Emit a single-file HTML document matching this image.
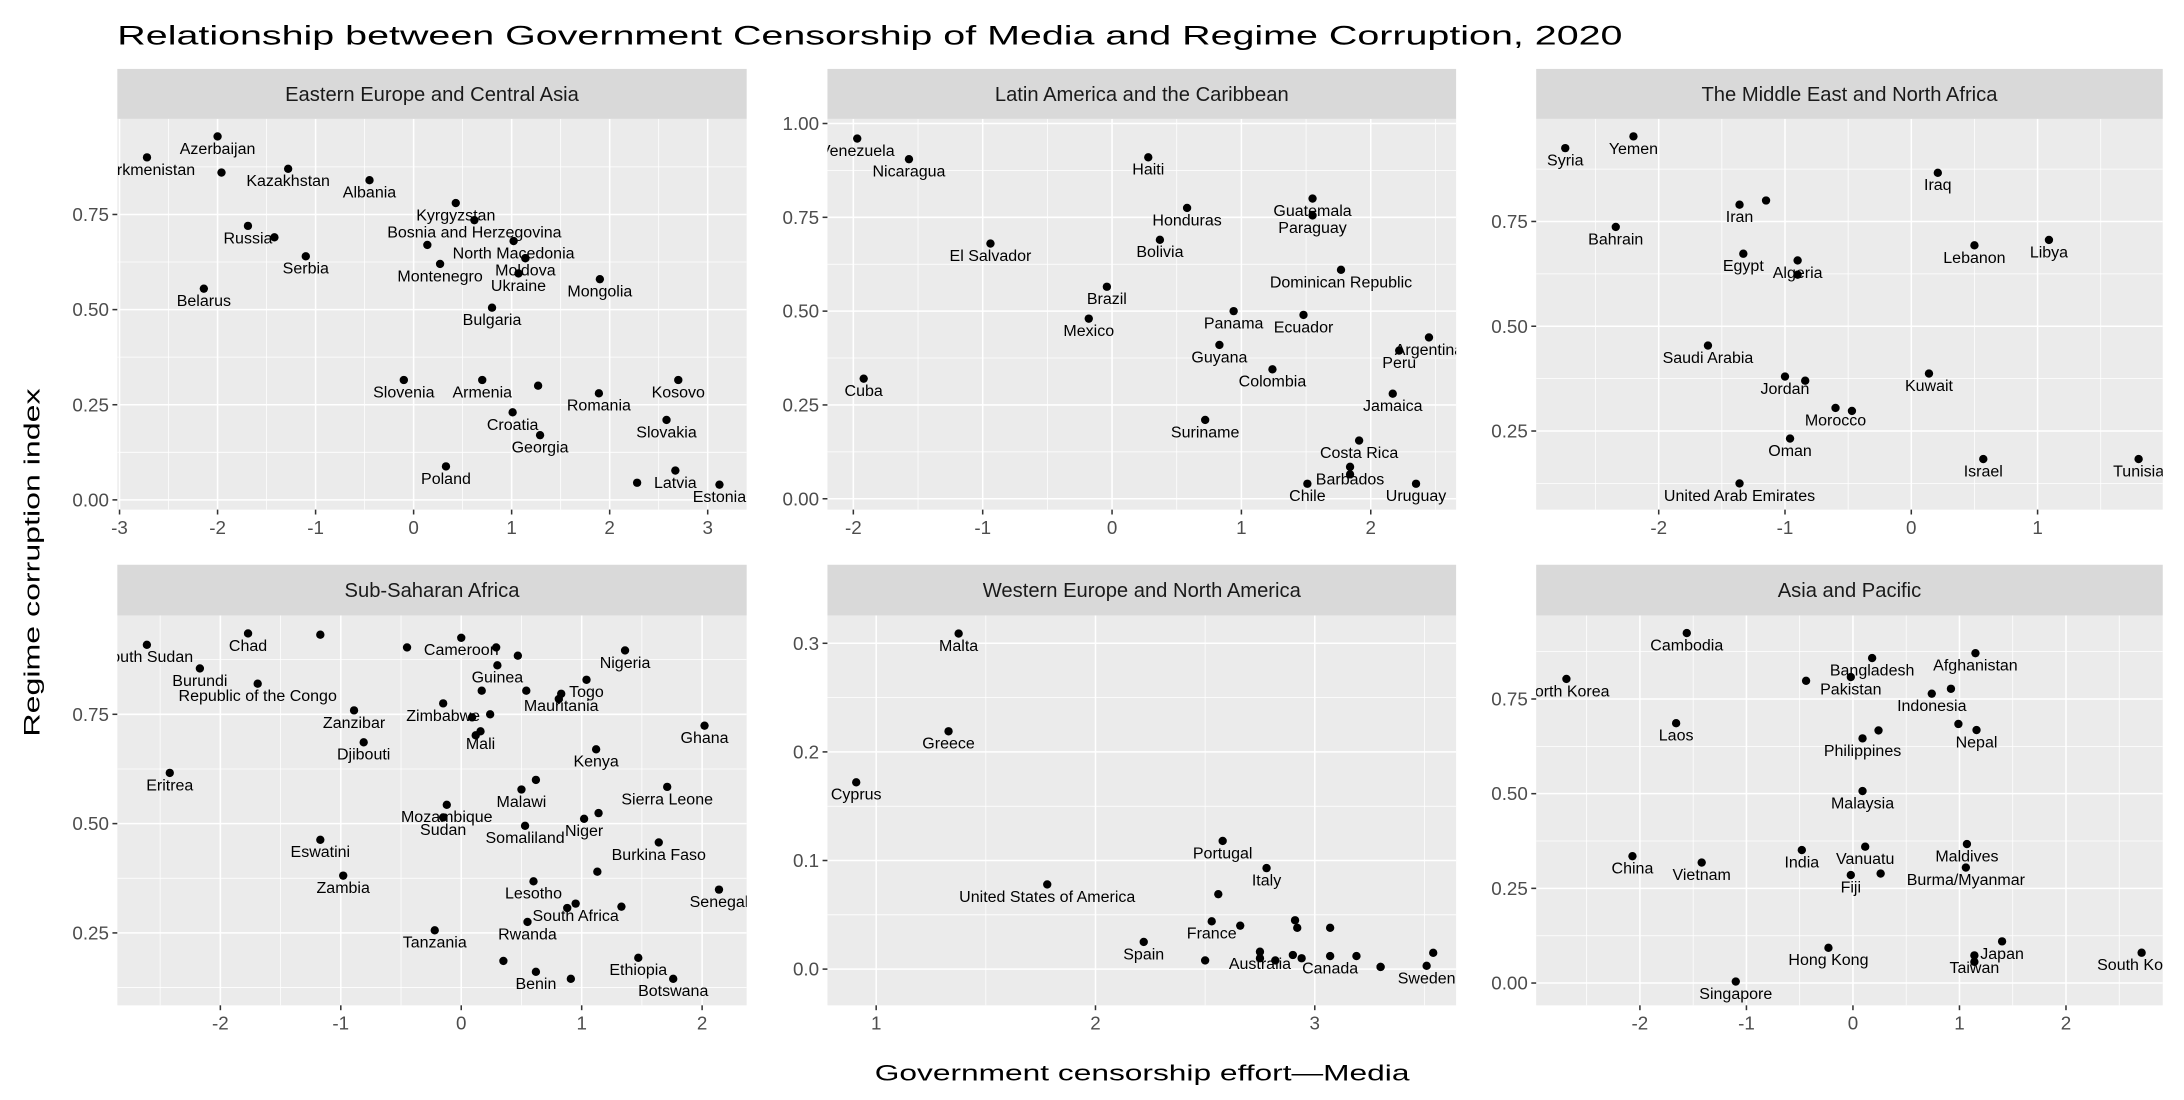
<!DOCTYPE html>
<html><head><meta charset="utf-8"><title>Censorship vs Corruption 2020</title>
<style>
html,body{margin:0;padding:0;background:#fff;}
svg{display:block;font-family:"Liberation Sans",Arial,sans-serif;}
</style></head>
<body>
<svg id="chart" width="2184" height="1100" viewBox="0 0 1568 790" xmlns="http://www.w3.org/2000/svg">
<rect x="0" y="0" width="1568" height="790" fill="#fff"/>
<text x="84" y="32" font-size="19.5" fill="#000" textLength="1081" lengthAdjust="spacingAndGlyphs">Relationship between Government Censorship of Media and Regime Corruption, 2020</text>
<text x="820" y="776" font-size="16" text-anchor="middle" fill="#000" textLength="384" lengthAdjust="spacingAndGlyphs">Government censorship effort—Media</text>
<text transform="translate(28,404) rotate(-90)" font-size="16" text-anchor="middle" fill="#000" textLength="250" lengthAdjust="spacingAndGlyphs">Regime corruption index</text>
<g id="panels"></g>
</svg>
<script>
// ---- Data ----
const eeNames = ["Turkmenistan","Azerbaijan","","Kazakhstan","Albania","Kyrgyzstan","Bosnia and Herzegovina","Russia","","Serbia","North Macedonia","","","Montenegro","Moldova","Ukraine","Mongolia","Belarus","Bulgaria","Slovenia","Armenia","","Romania","Kosovo","Croatia","Slovakia","Georgia","Poland","Latvia","","Estonia"];
const eeX = [-2.72,-2.0,-1.96,-1.28,-0.45,0.43,0.62,-1.69,-1.42,-1.1,1.02,0.14,1.14,0.27,1.14,1.07,1.9,-2.14,0.8,-0.1,0.7,1.27,1.89,2.7,1.01,2.58,1.29,0.33,2.67,2.28,3.12];
const eeY = [0.90,0.955,0.86,0.87,0.84,0.78,0.735,0.72,0.69,0.64,0.68,0.67,0.635,0.62,0.635,0.595,0.58,0.555,0.505,0.315,0.315,0.30,0.28,0.315,0.23,0.21,0.17,0.088,0.077,0.045,0.04];

const laNames = ["Venezuela","Nicaragua","Haiti","Honduras","Guatemala","Paraguay","El Salvador","Bolivia","Dominican Republic","Brazil","Panama","Ecuador","Mexico","Argentina","Peru","Guyana","Colombia","Cuba","Jamaica","Suriname","Costa Rica","Barbados","","Chile","Uruguay"];
const laX = [-1.97,-1.57,0.28,0.58,1.55,1.55,-0.94,0.37,1.77,-0.04,0.94,1.48,-0.18,2.45,2.22,0.83,1.24,-1.92,2.17,0.72,1.91,1.84,1.84,1.51,2.35];
const laY = [0.96,0.905,0.91,0.775,0.80,0.755,0.68,0.69,0.61,0.565,0.50,0.49,0.48,0.43,0.395,0.41,0.345,0.32,0.28,0.21,0.155,0.085,0.065,0.04,0.04];

const meNames = ["Syria","Yemen","Iraq","Iran","","Bahrain","Egypt","Algeria","","Lebanon","Libya","Saudi Arabia","Kuwait","Jordan","","Morocco","","Oman","Israel","Tunisia","United Arab Emirates"];
const meX = [-2.74,-2.2,0.21,-1.36,-1.15,-2.34,-1.33,-0.9,-0.9,0.5,1.09,-1.61,0.14,-1.0,-0.84,-0.6,-0.47,-0.96,0.57,1.8,-1.36];
const meY = [0.925,0.953,0.866,0.79,0.80,0.737,0.673,0.657,0.623,0.693,0.706,0.454,0.387,0.38,0.37,0.305,0.298,0.232,0.183,0.183,0.125];

const ssNames = ["South Sudan","Chad","","","Cameroon","","","Guinea","Nigeria","Burundi","Republic of the Congo","","","Togo","Mauritania","","Zimbabwe","","","Zanzibar","Mali","","Djibouti","Ghana","Kenya","Eritrea","","Malawi","Sierra Leone","Mozambique","Sudan","Niger","","Somaliland","Burkina Faso","Eswatini","","Zambia","Lesotho","Senegal","South Africa","","","Rwanda","Tanzania","","Benin","","Ethiopia","Botswana"];
const ssX = [-2.61,-1.77,-1.17,-0.45,0.0,0.29,0.47,0.3,1.36,-2.17,-1.69,0.17,0.54,1.04,0.83,0.81,-0.15,0.09,0.24,-0.89,0.16,0.12,-0.81,2.02,1.12,-2.42,0.62,0.5,1.71,-0.12,-0.15,1.02,1.14,0.53,1.64,-1.17,1.13,-0.98,0.6,2.14,0.95,0.88,1.33,0.55,-0.22,0.35,0.62,0.91,1.47,1.76];
const ssY = [0.909,0.935,0.932,0.903,0.925,0.903,0.884,0.862,0.896,0.855,0.82,0.804,0.804,0.829,0.797,0.785,0.775,0.743,0.75,0.759,0.711,0.702,0.686,0.724,0.670,0.616,0.600,0.578,0.584,0.543,0.514,0.511,0.524,0.495,0.457,0.463,0.39,0.381,0.368,0.349,0.317,0.307,0.31,0.275,0.256,0.186,0.161,0.145,0.193,0.145];

const weNames = ["Malta","Greece","Cyprus","Portugal","Italy","United States of America","","France","","","","","Spain","Australia","","","","","","Canada","","","","Sweden",""];
const weX = [1.376,1.33,0.909,2.58,2.78,1.78,2.56,2.53,2.66,2.91,2.92,3.07,2.22,2.75,2.75,2.82,2.50,2.90,2.94,3.07,3.19,3.30,3.30,3.51,3.54];
const weY = [0.309,0.219,0.172,0.118,0.093,0.078,0.069,0.044,0.040,0.045,0.038,0.038,0.025,0.016,0.010,0.008,0.008,0.013,0.010,0.012,0.012,0.002,0.002,0.003,0.015];

const apNames = ["North Korea","Cambodia","Bangladesh","Afghanistan","Pakistan","","Indonesia","","Laos","Philippines","","","Nepal","Malaysia","China","Vietnam","India","Vanuatu","Maldives","Fiji","","Burma/Myanmar","Hong Kong","Japan","Taiwan","","South Korea","Singapore"];
const apX = [-2.69,-1.56,0.18,1.15,-0.02,-0.44,0.74,0.92,-1.66,0.09,0.24,0.99,1.16,0.09,-2.07,-1.42,-0.48,0.115,1.07,-0.02,0.26,1.06,-0.23,1.40,1.14,1.14,2.71,-1.10];
const apY = [0.803,0.924,0.858,0.871,0.808,0.798,0.764,0.777,0.686,0.646,0.667,0.684,0.668,0.507,0.335,0.318,0.351,0.36,0.367,0.285,0.289,0.305,0.093,0.11,0.073,0.056,0.08,0.004];

const eeXTicks = [-3,-2,-1,0,1,2,3], eeYTicks = [0,0.25,0.5,0.75];
const laXTicks = [-2,-1,0,1,2], laYTicks = [0,0.25,0.5,0.75,1];
const meXTicks = [-2,-1,0,1], meYTicks = [0.25,0.5,0.75];
const ssXTicks = [-2,-1,0,1,2], ssYTicks = [0.25,0.5,0.75];
const weXTicks = [1,2,3], weYTicks = [0,0.1,0.2,0.3];
const apXTicks = [-2,-1,0,1,2], apYTicks = [0,0.25,0.5,0.75];

// ---- Panel geometry (axis functions) ----
const panels = [
 {key:"eastern-europe", title:"Eastern Europe and Central Asia", names:eeNames, xs:eeX, ys:eeY, xt:eeXTicks, yt:eeYTicks, yfmt:2,
  L:84,R:536,T:85.4,B:366,sT:49.5, x0:296.8, xk:70.4, y0:359, yk:273.3},
 {key:"latin-america", title:"Latin America and the Caribbean", names:laNames, xs:laX, ys:laY, xt:laXTicks, yt:laYTicks, yfmt:2,
  L:594,R:1045.5,T:85.4,B:366,sT:49.5, x0:798.4, xk:92.9, y0:358.2, yk:269.5},
 {key:"middle-east", title:"The Middle East and North Africa", names:meNames, xs:meX, ys:meY, xt:meXTicks, yt:meYTicks, yfmt:2,
  L:1103,R:1553,T:85.4,B:366,sT:49.5, x0:1372.4, xk:90.7, y0:384.8, yk:301},
 {key:"sub-saharan-africa", title:"Sub-Saharan Africa", names:ssNames, xs:ssX, ys:ssY, xt:ssXTicks, yt:ssYTicks, yfmt:2,
  L:84,R:536,T:442,B:722,sT:405.6, x0:331, xk:86.5, y0:748.5, yk:314},
 {key:"western-europe", title:"Western Europe and North America", names:weNames, xs:weX, ys:weY, xt:weXTicks, yt:weYTicks, yfmt:1,
  L:594,R:1045.5,T:442,B:722,sT:405.6, x0:471.5, xk:157.5, y0:696, yk:780},
 {key:"asia-pacific", title:"Asia and Pacific", names:apNames, xs:apX, ys:apY, xt:apXTicks, yt:apYTicks, yfmt:2,
  L:1103,R:1553,T:442,B:722,sT:405.6, x0:1330.5, xk:76.5, y0:706, yk:272}
];

const NS = "http://www.w3.org/2000/svg";
const root = document.getElementById("panels");
function mk(tag, attrs, parent){ const e=document.createElementNS(NS,tag); for(const k in attrs) e.setAttribute(k,attrs[k]); parent.appendChild(e); return e; }

panels.forEach((p,i)=>{
  const sx = v => p.x0 + v*p.xk;
  const sy = v => p.y0 - v*p.yk;
  const g = mk("g",{},root);
  
  
  const defs = mk("defs",{},g);
  const cp = mk("clipPath",{id:"clip"+i},defs);
  mk("rect",{x:p.L,y:p.T,width:p.R-p.L,height:p.B-p.T},cp);
  const strip = mk("rect",{x:p.L,y:p.sT,width:p.R-p.L,height:p.T-p.sT,fill:"#D9D9D9"},g);
  
  
  const st = mk("text",{x:(p.L+p.R)/2,y:(p.sT+p.T)/2+5,"font-size":"14.5","text-anchor":"middle",fill:"#1A1A1A"},g);
  st.textContent = p.title;
  
  
  const bg = mk("rect",{x:p.L,y:p.T,width:p.R-p.L,height:p.B-p.T,fill:"#EBEBEB"},g);
  
  
  const grid = mk("g",{"clip-path":"url(#clip"+i+")"},g);
  
  
  const xstep = p.xt[1]-p.xt[0], ystep = p.yt[1]-p.yt[0];
  for(let v=p.xt[0]-xstep*1.5; v<=p.xt[p.xt.length-1]+xstep*1.5; v+=xstep)
    mk("line",{x1:sx(v),x2:sx(v),y1:p.T,y2:p.B,stroke:"#fff","stroke-width":"0.55"},grid);
  for(let v=p.yt[0]-ystep*1.5; v<=p.yt[p.yt.length-1]+ystep*1.5; v+=ystep)
    mk("line",{x1:p.L,x2:p.R,y1:sy(v),y2:sy(v),stroke:"#fff","stroke-width":"0.55"},grid);
  p.xt.forEach(v=>mk("line",{x1:sx(v),x2:sx(v),y1:p.T,y2:p.B,stroke:"#fff","stroke-width":"1.1"},grid));
  p.yt.forEach(v=>mk("line",{x1:p.L,x2:p.R,y1:sy(v),y2:sy(v),stroke:"#fff","stroke-width":"1.1"},grid));
  p.xt.forEach(v=>{
    mk("line",{x1:sx(v),x2:sx(v),y1:p.B,y2:p.B+3.5,stroke:"#333","stroke-width":"1.1"},g);
    const t = mk("text",{x:sx(v),y:p.B+17.5,"font-size":"13.5","text-anchor":"middle",fill:"#4D4D4D"},g);
    t.textContent = v<0 ? "-"+Math.abs(v) : String(v);
    
    
  });
  p.yt.forEach(v=>{
    mk("line",{x1:p.L-3.5,x2:p.L,y1:sy(v),y2:sy(v),stroke:"#333","stroke-width":"1.1"},g);
    const t = mk("text",{x:p.L-6,y:sy(v)+4.7,"font-size":"13.5","text-anchor":"end",fill:"#4D4D4D"},g);
    t.textContent = v.toFixed(p.yfmt);
    
    
  });
  const pg = mk("g",{"clip-path":"url(#clip"+i+")"},g);
  p.xs.forEach((xv,j)=>{
    const c = mk("circle",{cx:sx(xv),cy:sy(p.ys[j]),r:"3",fill:"#000"},pg);
    
    
  });
  p.xs.forEach((xv,j)=>{
    if(!p.names[j]) return;
    const t = mk("text",{x:sx(xv),y:sy(p.ys[j])+12.5,"font-size":"11.5","text-anchor":"middle",fill:"#000"},pg);
    t.textContent = p.names[j];
    
    
  });
});
</script>
</body></html>
